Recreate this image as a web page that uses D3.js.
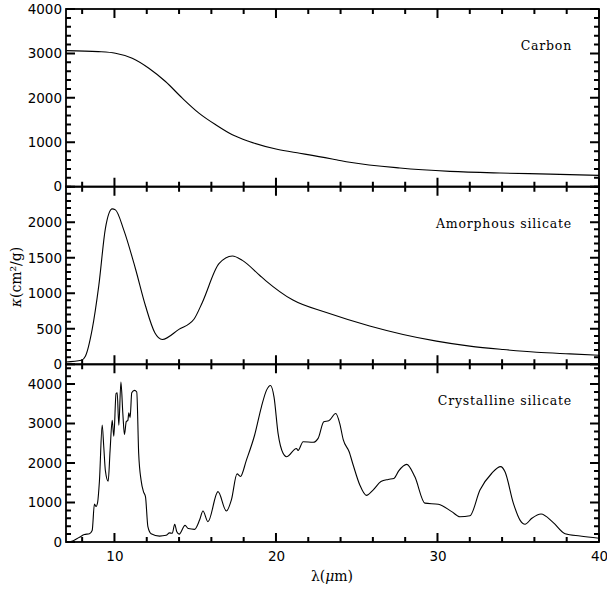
<!DOCTYPE html>
<html>
<head>
<meta charset="utf-8">
<script src="https://cdn.jsdelivr.net/npm/d3@7"></script>
<style>
  body { margin: 0; background: #fff; }
  .label { font-family: "DejaVu Serif", serif; font-size: 12.5px; letter-spacing: 0.8px; }
</style>
</head>
<body>
<svg id="chart" width="607" height="590"></svg>
<script>
// carbon
let carbonLambda = [7, 9.0, 10.06, 11.1, 12.13, 13.16, 14.2, 15.23, 16.27, 17.3, 18.34, 20, 21.47, 22.07, 23.73, 24.57, 27.67, 30.77, 33.87, 36.97, 40];
let carbonKappa  = [3063, 3040, 3004, 2892, 2667, 2367, 1993, 1656, 1393, 1168, 1018, 847, 752, 716, 607, 550, 420, 345, 307, 283, 255];

// amorphous silicate
let amorLambda = [7, 7.95, 8.2, 8.62, 9.03, 9.44, 9.86, 10.06, 10.58, 11.3, 11.92, 12.5, 12.96, 13.99, 14.92, 15.44, 16.47, 17.3, 17.92, 19.0, 19.36, 21.05, 23.12, 25.8, 27.87, 29.94, 32.0, 34.07, 36.14, 38.2, 40];
let amorKappa  = [33, 57, 114, 492, 1108, 1913, 2187, 2173, 1889, 1345, 824, 445, 350, 492, 634, 871, 1416, 1525, 1463, 1250, 1179, 904, 729, 540, 421, 327, 256, 208, 170, 147, 128];

// crystalline silicate
let crysLambda = [7, 7.3, 7.83, 8.14, 8.45, 8.62, 8.76, 8.86, 8.96, 9.07, 9.24, 9.34, 9.44, 9.61, 9.73, 9.86, 9.96, 10.1, 10.17, 10.27, 10.4, 10.52, 10.62, 10.73, 10.83, 10.89, 10.97, 11.07, 11.24, 11.38, 11.5, 11.65, 11.8, 11.92, 12.07, 12.27, 12.79, 13.2, 13.41, 13.58, 13.73, 13.86, 14.01, 14.37, 14.57, 14.96, 15.27, 15.48, 15.79, 16.41, 16.93, 17.24, 17.59, 17.8, 18.17, 18.68, 19.1, 19.41, 19.66, 19.88, 20.13, 20.44, 20.65, 21.27, 21.37, 21.68, 22.3, 22.61, 22.96, 23.27, 23.7, 23.95, 24.16, 24.53, 24.78, 25.19, 25.6, 26.01, 26.5, 26.95, 27.3, 27.6, 28.09, 28.6, 29.22, 30.05, 30.88, 31.39, 32.01, 32.63, 33.35, 33.91, 34.18, 34.7, 35.11, 35.42, 35.84, 36.41, 37.17, 37.9, 38.83, 40];
let crysKappa  = [0, 10, 120, 190, 210, 290, 960, 900, 1010, 1545, 2960, 2400, 1800, 1540, 2320, 3080, 2680, 3760, 3780, 2960, 4050, 3250, 2720, 3050, 3080, 3270, 3150, 3780, 3840, 3800, 2240, 1560, 1270, 1150, 390, 210, 150, 170, 230, 220, 450, 260, 200, 420, 340, 320, 555, 785, 515, 1275, 785, 1065, 1725, 1660, 2075, 2710, 3425, 3840, 3965, 3670, 2750, 2245, 2160, 2370, 2320, 2540, 2525, 2625, 3045, 3070, 3255, 3000, 2600, 2285, 1950, 1445, 1180, 1315, 1530, 1585, 1610, 1800, 1965, 1650, 985, 955, 770, 640, 665, 1315, 1735, 1910, 1780, 980, 555, 450, 600, 710, 490, 210, 150, 95];

let panelNames = ["Carbon", "Amorphous silicate", "Crystalline silicate"];
let yMax = [4000, 2500, 4500];
let yMajor = [[0, 1000, 2000, 3000, 4000], [0, 500, 1000, 1500, 2000], [0, 1000, 2000, 3000, 4000]];
let yMinorStep = [200, 100, 200];
let xMajor = [10, 20, 30, 40];

let svg = d3.select("#chart");
let plotLeft = 66, plotRight = 599, plotTop = 9, plotBottom = 542;
let panelH = (plotBottom - plotTop) / 3;

let x = d3.scaleLinear().domain([7, 40]).range([plotLeft, plotRight]);

let series = [
  carbonLambda.map((l, i) => [l, carbonKappa[i]]),
  amorLambda.map((l, i) => [l, amorKappa[i]]),
  crysLambda.map((l, i) => [l, crysKappa[i]])
];

let xMinor = d3.range(8, 40, 2).filter(v => v % 10 != 0);

// builds the inward tick marks of one panel as a single path
function tickPath(y, y0, y1, majorY, minorY){
  let path = d3.path();
  for (let v of majorY.concat(minorY)) {
    let len = majorY.includes(v) ? 9 : 5;
    path.moveTo(plotLeft, y(v)); path.lineTo(plotLeft + len, y(v));
    path.moveTo(plotRight, y(v)); path.lineTo(plotRight - len, y(v));
  }
  for (let v of xMajor.concat(xMinor)) {
    let len = xMajor.includes(v) ? 9 : 5;
    path.moveTo(x(v), y1); path.lineTo(x(v), y1 - len);
    path.moveTo(x(v), y0); path.lineTo(x(v), y0 + len);
  }
  return path.toString();
}

for (let p = 0; p < 3; p++) {
  let y0 = plotTop + p * panelH, y1 = y0 + panelH;
  let y = d3.scaleLinear().domain([0, yMax[p]]).range([y1, y0]);
  let g = svg.append("g");

  let minorY = d3.range(0, yMax[p] + 1, yMinorStep[p]).filter(v => !yMajor[p].includes(v));

  // y labels
  let ax = g.append("g").attr("transform", `translate(${plotLeft},0)`)
    .call(d3.axisLeft(y).tickValues(yMajor[p]).tickSize(0).tickPadding(4).tickFormat(d3.format("d")));
  ax.select(".domain").remove();

  if (p == 2) {
    let bx = g.append("g").attr("transform", `translate(0,${y1})`)
      .call(d3.axisBottom(x).tickValues(xMajor).tickSize(0).tickPadding(9).tickFormat(d3.format("d")));
    bx.select(".domain").remove();
  }

  g.append("path")
    .attr("class", "ticks")
    .attr("d", tickPath(y, y0, y1, yMajor[p], minorY))
    .attr("fill", "none")
    .attr("stroke", "#000")
    .attr("stroke-width", 2);

  g.append("rect")
    .attr("x", plotLeft).attr("y", y0)
    .attr("width", plotRight - plotLeft).attr("height", panelH)
    .attr("fill", "none").attr("stroke", "#000").attr("stroke-width", 1.8);

  let line = d3.line()
    .x(d => x(d[0]))
    .y(d => y(d[1]))
    .curve(d3.curveMonotoneX);

  g.append("path")
    .datum(series[p])
    .attr("d", line)
    .attr("fill", "none")
    .attr("stroke", "#000")
    .attr("stroke-width", 1.1);

  g.append("text")
    .attr("class", "label")
    .attr("x", 572)
    .attr("y", y0 + 41)
    .attr("text-anchor", "end")
    .text(panelNames[p]);
}

svg.selectAll(".tick text")
  .attr("font-family", "DejaVu Sans")
  .attr("font-size", 13.5)
  .attr("fill", "#000");

// axis titles
svg.append("text")
  .attr("x", 332).attr("y", 581)
  .attr("text-anchor", "middle")
  .style("font-family", "DejaVu Serif")
  .style("font-size", "14px")
  .html("λ(<tspan font-style='italic'>μ</tspan>m)");

svg.append("text")
  .attr("transform", "translate(21,277) rotate(-90)")
  .attr("text-anchor", "middle")
  .style("font-family", "DejaVu Serif")
  .style("font-size", "14px")
  .html("<tspan font-style='italic'>κ</tspan>(cm²/g)");
</script>
</body>
</html>
